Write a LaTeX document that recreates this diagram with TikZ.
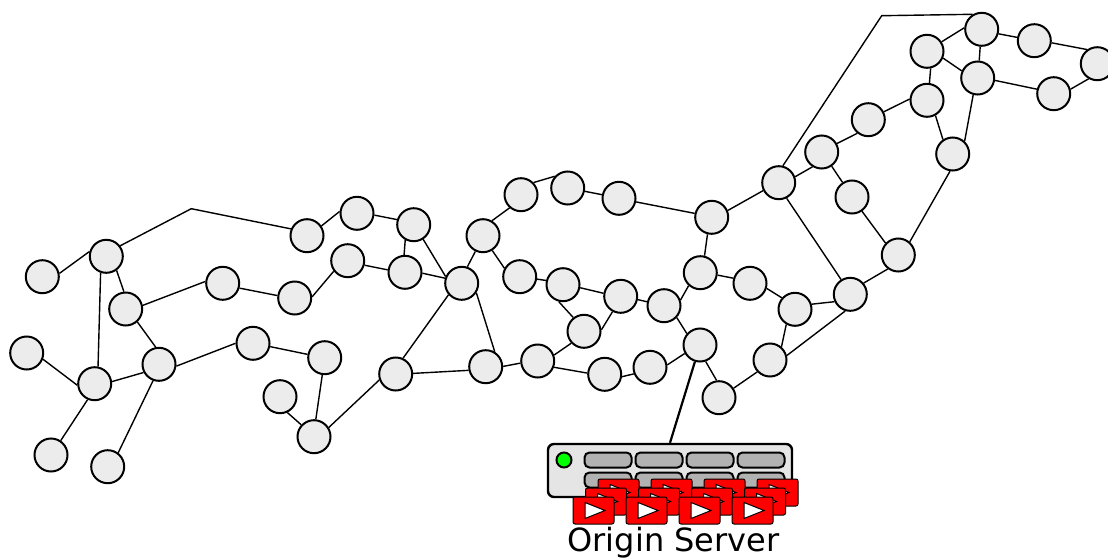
\documentclass[tikz,border=0pt]{standalone}
\usepackage{fontspec}
\setmainfont{DejaVu Sans}
\usetikzlibrary{positioning, calc}
\definecolor{nodegray}{gray}{0.925}
\definecolor{slotgray}{gray}{0.7}
\definecolor{servergray}{gray}{0.9}
\tikzset{
	peer/.style={circle, draw=black, line width=2pt, fill=nodegray, minimum size=33pt, inner sep=0pt},
	link/.style={line width=1.4pt},
	slot/.style={draw=black, line width=2pt, fill=slotgray, rounded corners=5pt, minimum width=47pt, minimum height=15pt, inner sep=0pt},
	video/.style={draw=black, line width=1pt, fill=red, rounded corners=2pt, minimum width=41pt, minimum height=27pt, inner sep=0pt},
}
\begin{document}
\begin{tikzpicture}[x=1pt,y=-1pt]
		\useasboundingbox (0,0) rectangle (1108,559);
		\foreach \name/\x/\y in {a1/42.3/276.7, a2/106.3/256.3, a3/125.7/309, a4/26.7/353, a5/94.7/383.7, a6/159/364.3, a7/51/455, a8/107.7/466.7,
			a9/222.7/283.3, a10/294.7/298, a11/253/343.3, a12/324.7/357.7, a13/280/396.7, a14/314/436.7, a15/307/235.7, a16/357/213.3,
			a17/413.7/224.7, a18/347.7/260.7, a19/405/272.3, a20/461.7/283.3, a21/395.7/374, a22/485.7/366.7, a23/483/235.7, a24/521/194.7,
			a25/567.7/188, a26/619/198.3, a27/711.7/217.3, a28/519.7/276.7, a29/563/284.7, a30/620.7/296.3, a31/584/331.3, a32/537.7/361,
			a33/604.7/374.3, a34/650/367.3, a35/700/345, a36/664/305.7, a37/700.3/272.7, a38/750/283.3, a39/795/309.3, a40/850.3/294.3,
			a41/770/360, a42/719/397.7, a43/778.7/182.7, a44/821.7/152, a45/852/197, a46/898.3/255, a47/868.3/119.7, a48/927/100.3,
			a49/952.7/154, a50/977.7/78, a51/927/51.3, a52/981.7/29.3, a53/1034.3/40.7, a54/1097.3/63.7, a55/1053.7/93.7} {
			\node (\name) at (\x,\y) [peer] {};
		}
		% links leave the circles at fixed points, so every end has its own angle
		\foreach \from/\aa/\to/\bb in {a1/11/a2/164, a2/-54/a3/96, a2/-109/a5/79, a3/-48/a6/101, a3/12/a9/174, a9/-16/a10/172,
			a10/4/a18/217, a18/-15/a19/172, a19/-3/a20/163, a17/-119/a19/93, a17/-57/a20/157, a16/-6/a17/163, a15/34/a16/174,
			a4/-21/a5/185, a5/7/a6/208, a5/-114/a7/56, a6/-110/a8/53, a6/-6/a11/180, a11/-11/a12/169, a12/-98/a14/84,
			a13/-65/a14/137, a14/32/a21/200, a21/65/a20/221, a21/2/a22/192, a20/-33/a22/59, a20/71/a23/244, a23/59/a24/229,
			a24/44/a25/138, a25/-11/a26/168, a26/-12/a27/167, a23/-58/a28/151, a28/-8/a29/166, a29/-10/a30/170, a29/-104/a31/128,
			a30/-118/a31/5, a31/-137/a32/20, a22/1/a32/187, a32/-21/a33/176, a33/-8/a34/202, a34/8/a35/209, a30/-11/a36/167,
			a36/-43/a35/139, a36/19/a37/228, a27/-104/a37/76, a37/-8/a38/163, a38/-17/a39/139, a39/17/a40/205, a39/-120/a41/49,
			a41/15/a40/253, a41/223/a42/33, a35/-71/a42/98, a27/23/a43/207, a43/-63/a40/122, a46/-127/a40/40, a45/-55/a46/137,
			a44/-55/a45/123, a43/20/a44/238, a44/29/a47/231, a47/27/a48/176, a48/82/a51/-78, a48/-61/a49/124, a49/47/a50/255,
			a46/49/a49/-99, a50/156/a51/-23, a51/33/a52/175, a52/-95/a50/85, a52/-15/a53/169, a53/-7/a54/126, a54/240/a55/15,
			a55/165/a50/-8} {
			\draw[link] (\from.\aa) -- (\to.\bb);
		}
		\coordinate (bendleft) at (191.3,208.7);
		\coordinate (bendright) at (881.7,15.7);
		\draw[link] (a2.37) -- (bendleft) -- (a15.157);
		\draw[link] (a43.76) -- (bendright) -- (a52.121);
		% server
		\node (server) at (670,470.5) [draw=black, line width=2.4pt, fill=servergray, rounded corners=6pt, minimum width=244pt, minimum height=53pt, inner sep=0pt] {};
		\draw[line width=2.2pt] (a35.-107) -- (server.north);
		\node (led) at (564,460) [circle, draw=black, line width=2pt, fill=green, minimum size=15pt, inner sep=0pt] {};
		\foreach \i/\x in {1/608,2/659,3/710,4/761} {
			\node (slottop\i) at (\x,460) [slot] {};
			\node (slotbot\i) at (\x,480) [slot] {};
		}
		\foreach \row/\dx/\dy in {c/25/-18, b/12.5/-9, a/0/0} {
			\foreach \i in {0,1,2,3} {
				\node (video\row\i) at ({593.5+\i*53+\dx},{510.5+\dy}) [video] {};
				\draw[line width=1pt, fill=white] ($(video\row\i.center)+(-8.5,-8)$) -- ++(20,8) -- ++(-20,8) -- cycle;
			}
		}
		\node (origin) at (673.5,543) [font=\fontsize{32}{32}\selectfont, inner sep=0pt] {Origin Server};
	\end{tikzpicture}
\end{document}
